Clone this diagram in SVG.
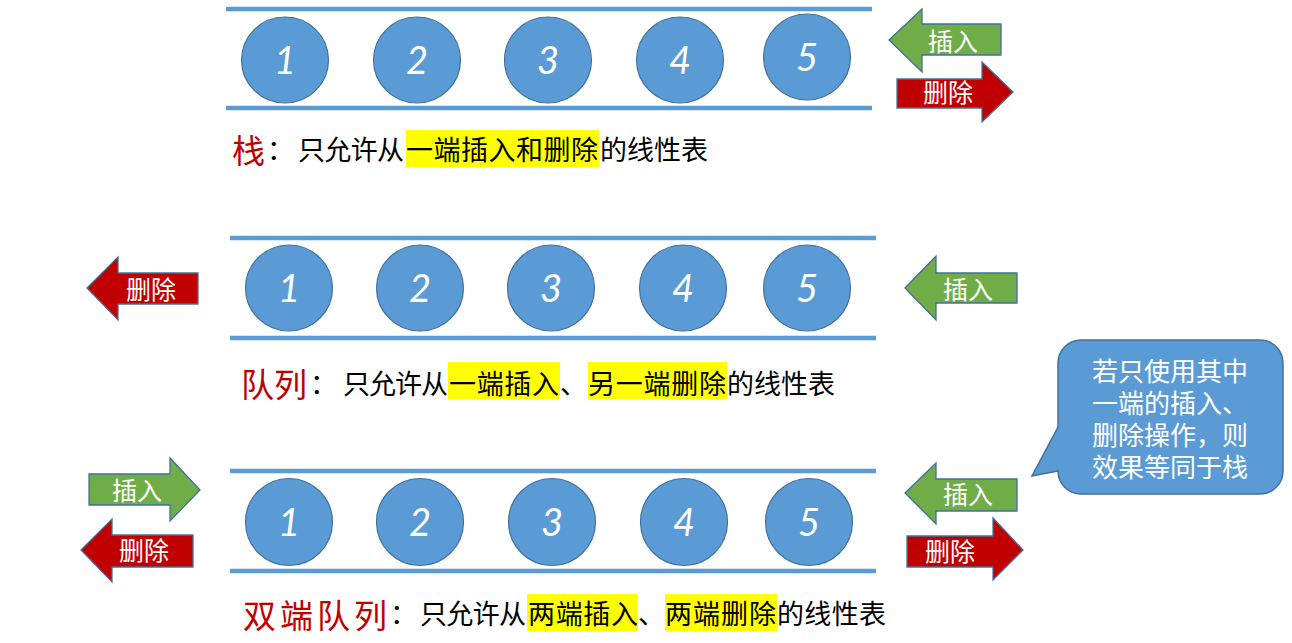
<svg xmlns="http://www.w3.org/2000/svg" width="1292" height="643" viewBox="0 0 1292 643">
<style>
.rail{stroke:#5B9BD5;stroke-width:4.5;fill:none}
.ball{fill:#5B9BD5;stroke:#41719C;stroke-width:1.2}
.num{font-family:Lato,"Open Sans","Liberation Sans",sans-serif;font-style:italic;font-size:38px;fill:#fff;text-anchor:middle}
.ins{fill:#70AD47;stroke:#41719C;stroke-width:1.3}
.del{fill:#C00000;stroke:#41719C;stroke-width:1.3}
.lbl{font-family:"Noto Sans CJK SC","Noto Sans",sans-serif;font-size:25px;fill:#fff;text-anchor:middle}
.cap{font-family:"Noto Sans CJK SC","Noto Sans",sans-serif;font-size:27px;fill:#000}
.head{font-family:"Noto Sans CJK SC","Noto Sans",sans-serif;font-size:33px;fill:#C00000}
.hl{fill:#FFFF00}
.callout{fill:#5B9BD5;stroke:#41719C;stroke-width:1.5}
.ctext{font-family:"Noto Sans CJK SC","Noto Sans",sans-serif;font-size:26px;fill:#fff;text-anchor:middle}
</style>
<rect width="1292" height="643" fill="#fff"/>

<g id="rails">
<line class="rail" x1="226" y1="9" x2="872" y2="9"/>
<line class="rail" x1="226" y1="108" x2="872" y2="108"/>
<line class="rail" x1="230" y1="238" x2="876" y2="238"/>
<line class="rail" x1="230" y1="338" x2="876" y2="338"/>
<line class="rail" x1="230" y1="471" x2="876" y2="471"/>
<line class="rail" x1="230" y1="571" x2="876" y2="571"/>
</g>

<g id="stack">
<g id="s1"><ellipse class="ball" cx="285" cy="60" rx="43.5" ry="43"/><text class="num" x="285" y="74">1</text></g>
<g id="s2"><ellipse class="ball" cx="417" cy="60" rx="43.5" ry="43"/><text class="num" x="417" y="74">2</text></g>
<g id="s3"><ellipse class="ball" cx="548" cy="60" rx="43.5" ry="43"/><text class="num" x="548" y="74">3</text></g>
<g id="s4"><ellipse class="ball" cx="680" cy="60" rx="43.5" ry="43"/><text class="num" x="680" y="74">4</text></g>
<g id="s5"><ellipse class="ball" cx="807" cy="57" rx="43.5" ry="43"/><text class="num" x="807" y="71">5</text></g>
</g>

<g id="stack-insert"><path class="ins" d="M889,40 L922,9 L922,24 L1001,24 L1001,55 L922,55 L922,72 Z"/><text class="lbl" x="953" y="51">插入</text></g>
<g id="stack-delete"><path class="del" d="M897,79 L982,79 L982,62 L1013,92 L982,122 L982,108 L897,108 Z"/><text class="lbl" x="948" y="102">删除</text></g>

<g id="stack-caption">
<rect class="hl" x="406" y="130" width="193" height="37"/>
<text class="head" x="232" y="163">栈</text>
<text class="cap" y="160"><tspan x="267">：</tspan><tspan x="298" textLength="106" lengthAdjust="spacing">只允许从</tspan><tspan x="406" textLength="192" lengthAdjust="spacing">一端插入和删除</tspan><tspan x="600" textLength="108" lengthAdjust="spacing">的线性表</tspan></text>
</g>

<g id="queue">
<g id="q1"><ellipse class="ball" cx="289" cy="288" rx="43.5" ry="43"/><text class="num" x="289" y="302">1</text></g>
<g id="q2"><ellipse class="ball" cx="420" cy="288" rx="43.5" ry="43"/><text class="num" x="420" y="302">2</text></g>
<g id="q3"><ellipse class="ball" cx="551" cy="288" rx="43.5" ry="43"/><text class="num" x="551" y="302">3</text></g>
<g id="q4"><ellipse class="ball" cx="683" cy="288" rx="43.5" ry="43"/><text class="num" x="683" y="302">4</text></g>
<g id="q5"><ellipse class="ball" cx="807" cy="288" rx="43.5" ry="43"/><text class="num" x="807" y="302">5</text></g>
</g>

<g id="queue-delete"><path class="del" d="M87,288 L118,257 L118,273 L198,273 L198,304 L118,304 L118,320 Z"/><text class="lbl" x="151" y="299">删除</text></g>
<g id="queue-insert"><path class="ins" d="M905,288 L936,256 L936,273 L1017,273 L1017,303 L936,303 L936,320 Z"/><text class="lbl" x="968" y="299">插入</text></g>

<g id="queue-caption">
<rect class="hl" x="448" y="362" width="112" height="37"/>
<rect class="hl" x="588" y="362" width="139" height="37"/>
<text class="head" x="241" y="397" textLength="66" lengthAdjust="spacing">队列</text>
<text class="cap" y="394"><tspan x="310">：</tspan><tspan x="343" textLength="105" lengthAdjust="spacing">只允许从</tspan><tspan x="449" textLength="110" lengthAdjust="spacing">一端插入</tspan><tspan x="560">、</tspan><tspan x="588" textLength="138" lengthAdjust="spacing">另一端删除</tspan><tspan x="727" textLength="108" lengthAdjust="spacing">的线性表</tspan></text>
</g>

<g id="deque">
<g id="d1"><ellipse class="ball" cx="289" cy="522" rx="43.5" ry="43.5"/><text class="num" x="289" y="536">1</text></g>
<g id="d2"><ellipse class="ball" cx="420" cy="522" rx="43.5" ry="43.5"/><text class="num" x="420" y="536">2</text></g>
<g id="d3"><ellipse class="ball" cx="552" cy="522" rx="43.5" ry="43.5"/><text class="num" x="552" y="536">3</text></g>
<g id="d4"><ellipse class="ball" cx="684" cy="522" rx="43.5" ry="43.5"/><text class="num" x="684" y="536">4</text></g>
<g id="d5"><ellipse class="ball" cx="809" cy="522" rx="43.5" ry="43.5"/><text class="num" x="809" y="536">5</text></g>
</g>

<g id="deque-left-insert"><path class="ins" d="M89,474 L170,474 L170,458 L200,490 L170,521 L170,505 L89,505 Z"/><text class="lbl" x="137" y="500">插入</text></g>
<g id="deque-left-delete"><path class="del" d="M81,550 L112,519 L112,535 L193,535 L193,567 L112,567 L112,582 Z"/><text class="lbl" x="144" y="560">删除</text></g>
<g id="deque-right-insert"><path class="ins" d="M905,493 L936,463 L936,479 L1017,479 L1017,511 L936,511 L936,524 Z"/><text class="lbl" x="968" y="504">插入</text></g>
<g id="deque-right-delete"><path class="del" d="M907,536 L993,536 L993,518 L1023,550 L993,580 L993,567 L907,567 Z"/><text class="lbl" x="950" y="561">删除</text></g>

<g id="deque-caption">
<rect class="hl" x="527" y="594" width="111" height="37"/>
<rect class="hl" x="665" y="594" width="112" height="37"/>
<text class="head" x="243" y="628" textLength="144" lengthAdjust="spacing">双端队列</text>
<text class="cap" y="624"><tspan x="390">：</tspan><tspan x="420" textLength="106" lengthAdjust="spacing">只允许从</tspan><tspan x="528" textLength="110" lengthAdjust="spacing">两端插入</tspan><tspan x="638">、</tspan><tspan x="665" textLength="111" lengthAdjust="spacing">两端删除</tspan><tspan x="777" textLength="109" lengthAdjust="spacing">的线性表</tspan></text>
</g>

<g id="note">
<path class="callout" d="M1081,340 H1260 A23,23 0 0 1 1283,363 V471 A23,23 0 0 1 1260,494 H1081 A23,23 0 0 1 1058,471 L1032,476 L1058,427 V363 A23,23 0 0 1 1081,340 Z"/>
<text class="ctext"><tspan x="1170" y="381">若只使用其中</tspan><tspan x="1170" y="413">一端的插入、</tspan><tspan x="1170" y="445">删除操作，则</tspan><tspan x="1170" y="477">效果等同于栈</tspan></text>
</g>
<g id="connectors"/>
</svg>
